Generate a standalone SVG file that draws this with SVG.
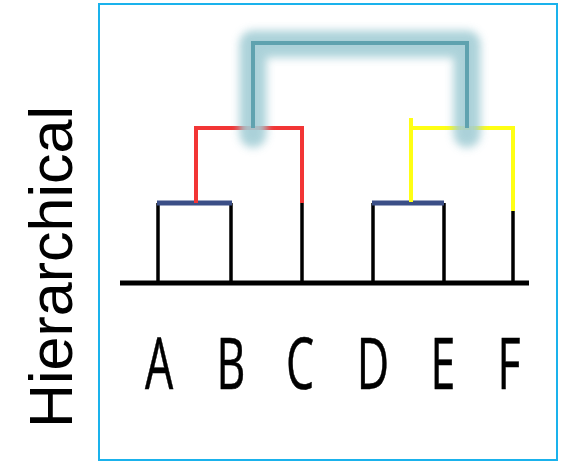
<svg xmlns="http://www.w3.org/2000/svg" width="564" height="462" viewBox="0 0 564 462">
  <style>
    .frame { fill: #ffffff; stroke: #1ab2ec; stroke-width: 2; }
    .title { font-family: "Liberation Sans", Arial, sans-serif; font-size: 61px; fill: #000; }
    .leaf { font-family: "Open Sans", "Liberation Sans", sans-serif; font-size: 72px; fill: #000; stroke: #000; stroke-width: 0.6; text-anchor: middle; }
    .link { fill: none; stroke-linecap: butt; stroke-linejoin: miter; }
    .base { stroke: #000; stroke-width: 5; }
    .stem { stroke: #000; stroke-width: 3.5; }
    .pair { stroke: #3b4f87; stroke-width: 5; }
    .red { stroke: #f23535; stroke-width: 4; }
    .yellow { stroke: #ffff14; stroke-width: 4; }
    .teal { stroke: #5fa2af; stroke-width: 4; }
    .glow { stroke: #a3cdd5; stroke-width: 27; stroke-linecap: round; stroke-linejoin: round; opacity: 0.9; }
  </style>
  <defs>
    <filter id="soft" x="-20%" y="-30%" width="140%" height="160%">
      <feGaussianBlur stdDeviation="4.5"/>
    </filter>
  </defs>

  <rect class="frame" x="99" y="4" width="458" height="456"/>

  <g id="title">
    <text class="title" transform="translate(72,428) rotate(-90)">Hierarchical</text>
  </g>

  <g id="connectors">
    <!-- leaf stems -->
    <line class="link stem" x1="158" y1="203" x2="158" y2="283"/>
    <line class="link stem" x1="231" y1="203" x2="231" y2="283"/>
    <line class="link stem" x1="302" y1="203" x2="302" y2="283"/>
    <line class="link stem" x1="373" y1="203" x2="373" y2="283"/>
    <line class="link stem" x1="444" y1="203" x2="444" y2="283"/>
    <line class="link stem" x1="513" y1="210" x2="513" y2="283"/>
    <!-- baseline -->
    <line class="link base" x1="120" y1="283" x2="529" y2="283"/>
    <!-- first merges -->
    <line class="link pair" x1="157" y1="203" x2="232" y2="203"/>
    <line class="link pair" x1="372" y1="203" x2="444" y2="203"/>
    <!-- red cluster -->
    <path class="link red" d="M196 203 V128 H302 V203"/>
    <!-- yellow cluster -->
    <path class="link yellow" d="M411 202 V118 M409 128 H513 V211"/>
    <!-- top merge with glow -->
    <path class="link glow" d="M253 134 V44 H467 V134" filter="url(#soft)"/>
    <path class="link teal" d="M253 128 V43 H467 V128"/>
  </g>

  <g id="node-A"><text class="leaf" transform="translate(159,389) scale(0.62,1)">A</text></g>
  <g id="node-B"><text class="leaf" transform="translate(231,389) scale(0.62,1)">B</text></g>
  <g id="node-C"><text class="leaf" transform="translate(300,389) scale(0.62,1)">C</text></g>
  <g id="node-D"><text class="leaf" transform="translate(373,389) scale(0.62,1)">D</text></g>
  <g id="node-E"><text class="leaf" transform="translate(443,389) scale(0.62,1)">E</text></g>
  <g id="node-F"><text class="leaf" transform="translate(509,389) scale(0.62,1)">F</text></g>
</svg>
